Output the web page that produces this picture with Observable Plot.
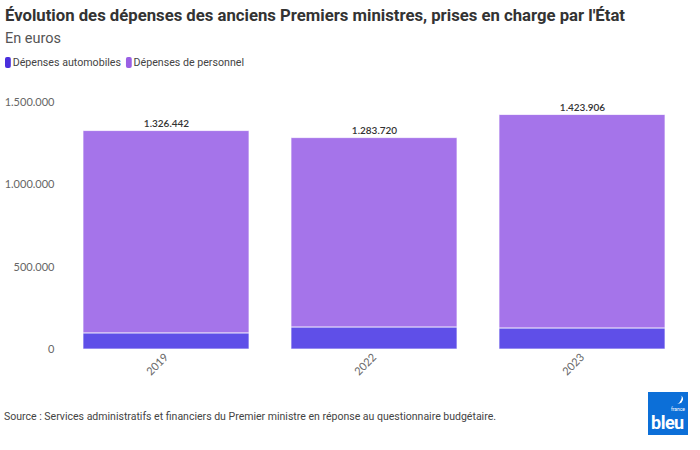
<!DOCTYPE html>
<html>
<head>
<meta charset="utf-8">
<script src="https://cdn.jsdelivr.net/npm/d3@7"></script>
<script src="https://cdn.jsdelivr.net/npm/@observablehq/plot@0.6"></script>
<style>
  html, body { margin: 0; padding: 0; background: #fff; width: 700px; height: 450px; overflow: hidden; }
  body { position: relative; font-family: Roboto, "Noto Sans", sans-serif; }
  .fit { position: absolute; white-space: nowrap; transform-origin: 0 50%; }
  #title { left: 5px; top: 5px; font-size: 17px; font-weight: 700; color: #333; }
  #subtitle { left: 5px; top: 29px; font-size: 15px; color: #555; }
  #legend { left: 5px; top: 56px; font-size: 11px; color: #444; }
  .sw { display: inline-block; width: 6px; height: 11px; border-radius: 2px; vertical-align: -2px; margin-right: 2px; }
  #source { left: 4px; top: 410px; font-size: 11px; color: #444; }
  #chart { position: absolute; left: 0; top: 85px; }
  #logo { position: absolute; left: 648px; top: 392px; width: 40px; height: 43px; background: #0c6fd8; color: #fff; overflow: hidden; }
  #logo .b { position: absolute; left: 3px; bottom: 3px; font-size: 18px; font-weight: 700; letter-spacing: -0.5px; line-height: 18px; }
  #logo .f { position: absolute; right: 3px; top: 15px; font-size: 5px; line-height: 5px; }
  #logo .s { position: absolute; right: 5px; top: 3px; width: 5px; height: 9px; border-right: 2px solid #fff; border-radius: 0 6px 6px 0; transform: rotate(25deg); }
</style>
</head>
<body>
<div id="title" class="fit" data-w="620">Évolution des dépenses des anciens Premiers ministres, prises en charge par l'État</div>
<div id="subtitle" class="fit" data-w="56">En euros</div>
<div id="legend" class="fit" data-w="239"></div>
<div id="chart"></div>
<div id="source" class="fit" data-w="492">Source : Services administratifs et financiers du Premier ministre en réponse au questionnaire budgétaire.</div>
<div id="logo"><div class="s"></div><div class="f">france</div><div class="b">bleu</div></div>
<script>
const years = ["2019", "2022", "2023"];
const totals = [1326442, 1283720, 1423906];
const auto = [98000, 134000, 128000];
const personnel = totals.map((t, i) => t - auto[i]);
const series = ["Dépenses automobiles", "Dépenses de personnel"];
const colors = ["#5f4fe8", "#a574ea"];
const swatchColors = ["#4a2fdc", "#9a60e4"];
const yTicks = [0, 500000, 1000000, 1500000];

const rows = [];
years.forEach((y, i) => {
  rows.push({year: y, serie: series[0], value: auto[i]});
  rows.push({year: y, serie: series[1], value: personnel[i]});
});
const totalRows = years.map((y, i) => ({year: y, total: totals[i]}));

const fmt = d3.formatLocale({decimal: ",", thousands: ".", grouping: [3], currency: ["", " €"]}).format(",d");

document.getElementById("legend").innerHTML = series.map((s, i) =>
  `<span class="sw" style="background:${swatchColors[i]}"></span>${s}`).join('<span style="display:inline-block;width:5px"></span>');

const chart = Plot.plot({
  width: 700,
  height: 305,
  marginLeft: 61,
  marginRight: 13,
  marginTop: 17,
  marginBottom: 41,
  style: {fontFamily: "Lato, 'Open Sans', sans-serif", fontSize: "11px", color: "#666", background: "transparent"},
  x: {domain: years, paddingInner: 0.2, paddingOuter: 0.1, label: null, tickSize: 0, tickRotate: -45, tickPadding: 6},
  y: {domain: [0, 1500000], ticks: yTicks, tickFormat: fmt, label: null, tickSize: 0, tickPadding: 7},
  color: {domain: series, range: colors},
  marks: [
    Plot.gridY(yTicks, {stroke: "#e6e6e6", strokeOpacity: 1, x1: 62, x2: 690}),
    Plot.barY(rows, Plot.stackY({x: "year", y: "value", fill: "serie", order: series, stroke: "#fff", strokeOpacity: 0.7, strokeWidth: 1})),
    Plot.text(totalRows, {x: "year", y: "total", text: d => fmt(d.total), dy: -7, fill: "#333", fontSize: 10, fontWeight: 600})
  ]
});
document.getElementById("chart").appendChild(chart);

document.querySelectorAll(".fit").forEach(el => {
  const target = +el.dataset.w;
  const w = el.getBoundingClientRect().width;
  if (w > 0) el.style.transform = `scaleX(${target / w})`;
});
</script>
</body>
</html>
